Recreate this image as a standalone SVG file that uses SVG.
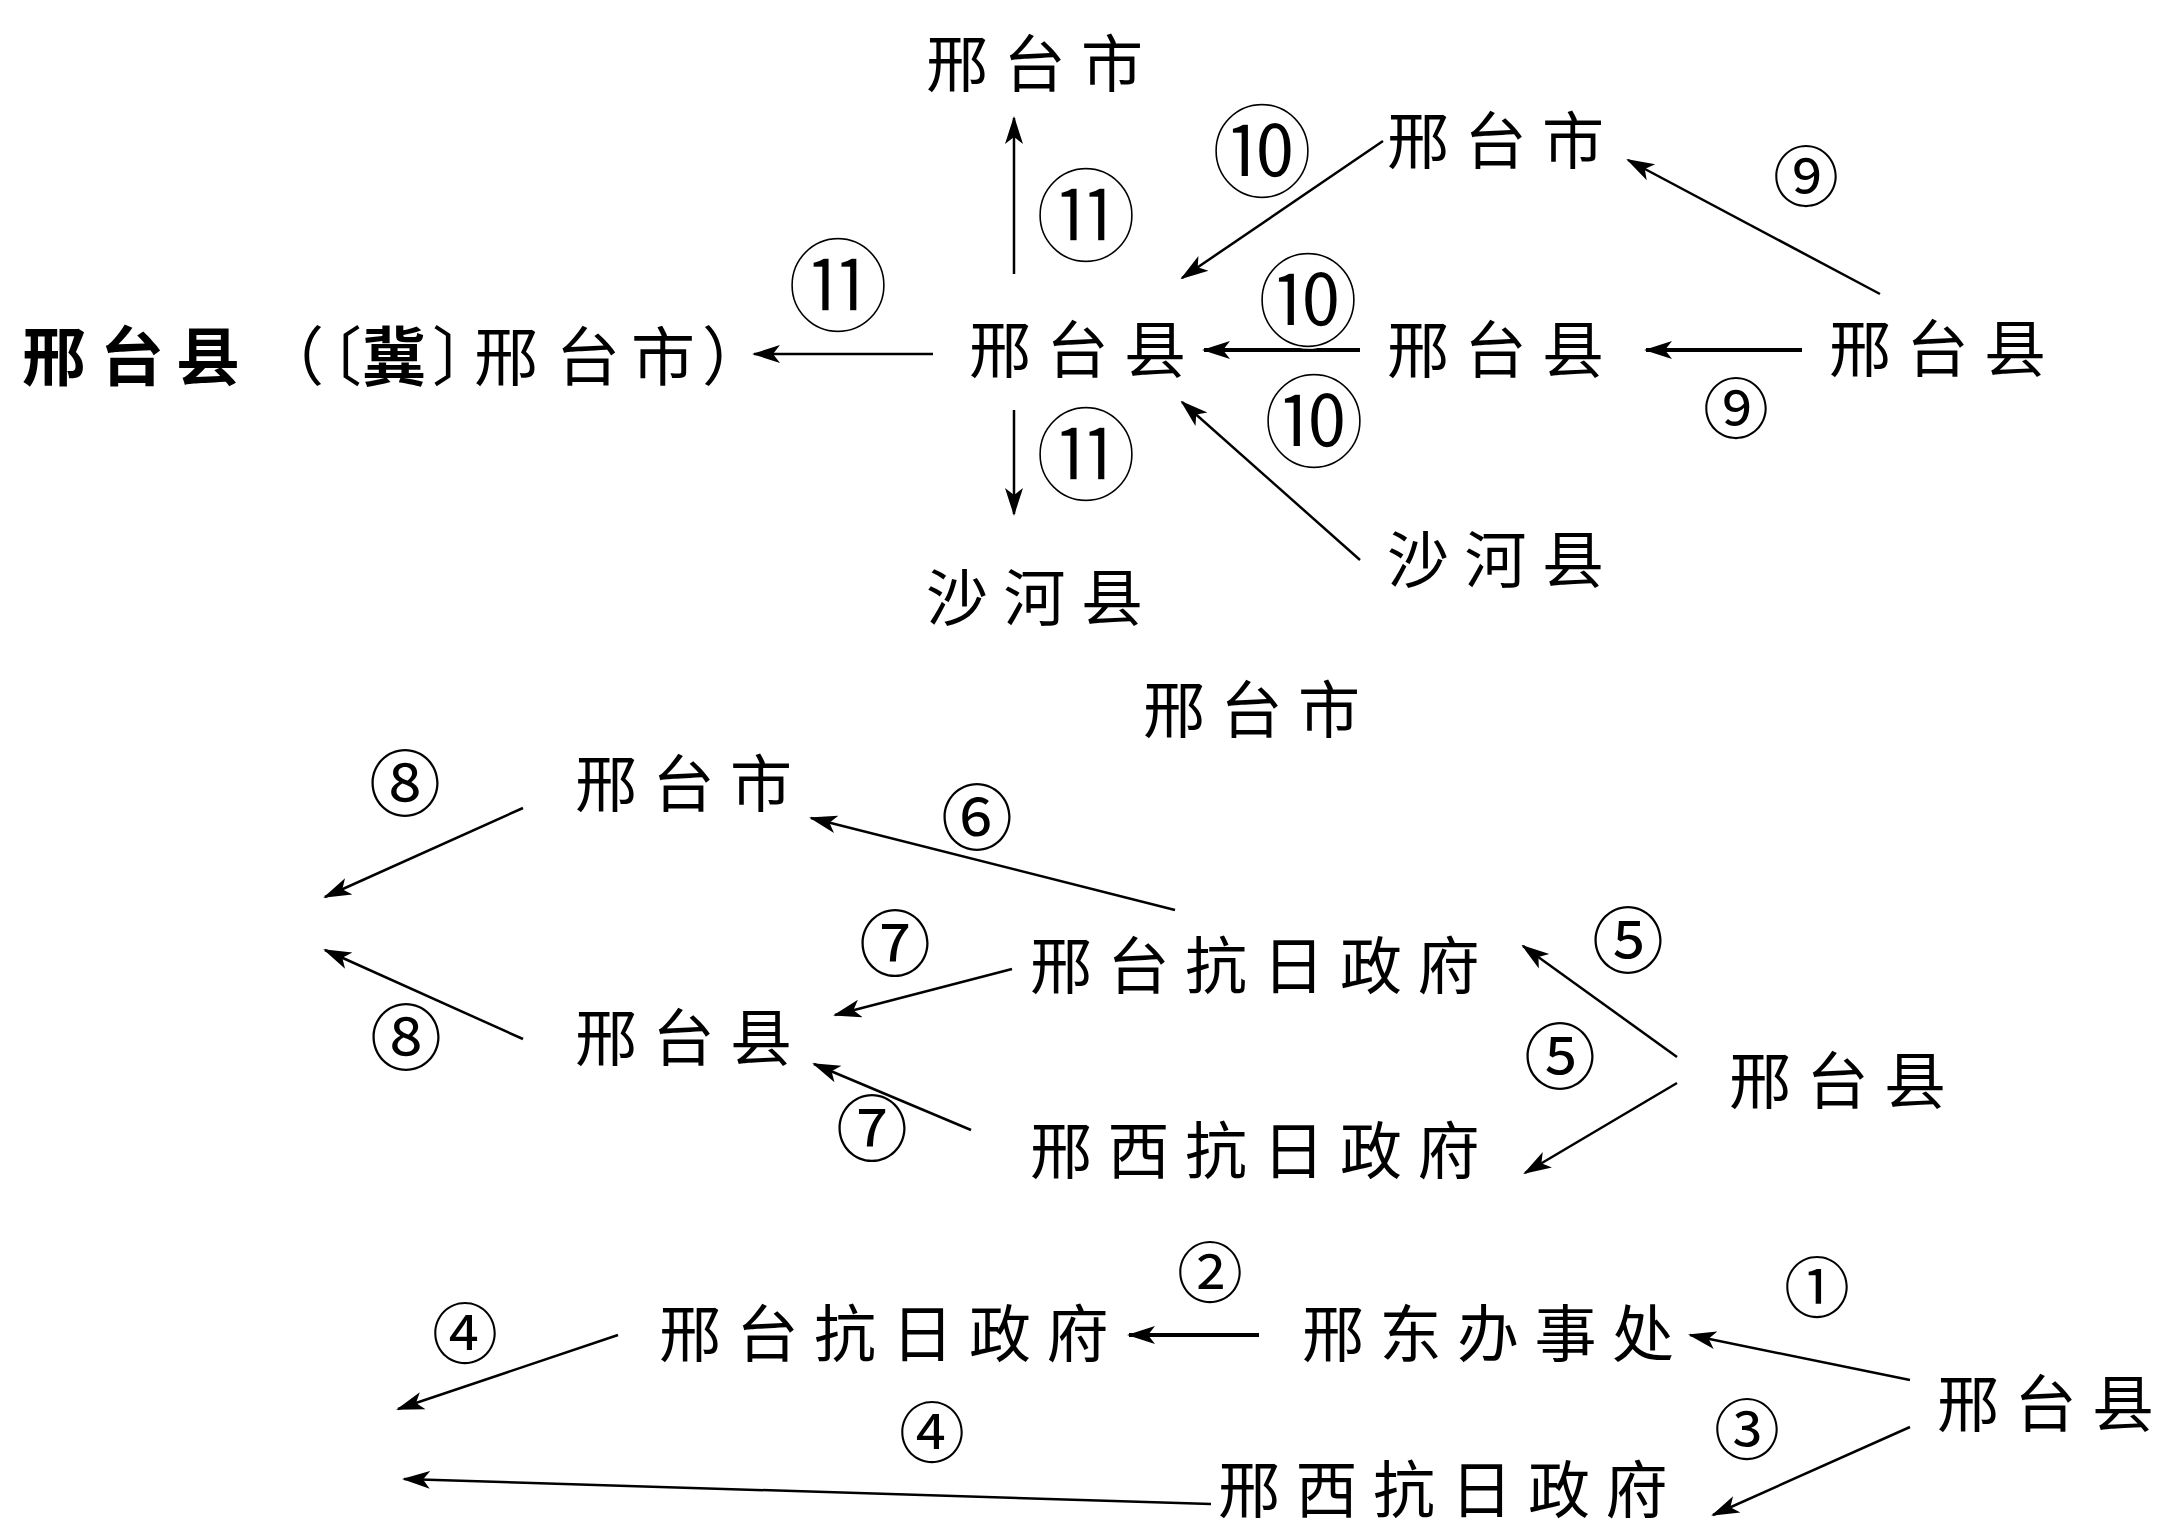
<svg xmlns="http://www.w3.org/2000/svg" width="2165" height="1527" viewBox="0 0 2165 1527">
<style>
.n{font-family:"Noto Sans CJK SC","Noto Sans CJK TC",sans-serif;font-size:62px;letter-spacing:15.5px;fill:#000}
.b{font-family:"Noto Sans CJK SC",sans-serif;font-size:64px;fill:#000}
.c{font-family:"Noto Sans CJK SC","DejaVu Sans",sans-serif;font-size:66px;fill:#000;text-anchor:middle}
.c2{font-size:72px}
.cc{font-family:"Noto Sans CJK SC","DejaVu Sans",sans-serif;font-size:102px;fill:#000;text-anchor:middle;stroke:#fff;stroke-width:1.6px}
.e{stroke:#000;stroke-width:2.5;fill:none;marker-end:url(#arr)}
.t{stroke-width:4}
</style>
<defs>
<marker id="arr" viewBox="0 0 28 20" refX="26" refY="10" markerWidth="28" markerHeight="20" markerUnits="userSpaceOnUse" orient="auto">
<path d="M28,10 L0,1 L7,10 L0,19 Z" fill="#000"/>
</marker>
</defs>
<rect width="2165" height="1527" fill="#fff"/>
<g id="connectors">
<line class="e" x1="1014" y1="274" x2="1014" y2="118"/>
<line class="e" x1="933" y1="354" x2="754" y2="354"/>
<line class="e" x1="1014" y1="410" x2="1014" y2="514"/>
<line class="e" x1="1383" y1="141" x2="1182" y2="278"/>
<line class="e t" x1="1360" y1="350" x2="1204" y2="350"/>
<line class="e" x1="1360" y1="560" x2="1182" y2="402"/>
<line class="e" x1="1880" y1="294" x2="1628" y2="160"/>
<line class="e t" x1="1802" y1="350" x2="1646" y2="350"/>
<line class="e" x1="523" y1="808" x2="325" y2="897"/>
<line class="e" x1="523" y1="1039" x2="325" y2="950"/>
<line class="e" x1="1175" y1="910" x2="811" y2="818"/>
<line class="e" x1="1012" y1="969" x2="835" y2="1015"/>
<line class="e" x1="971" y1="1130" x2="814" y2="1064"/>
<line class="e" x1="1677" y1="1057" x2="1523" y2="946"/>
<line class="e" x1="1677" y1="1083" x2="1525" y2="1173"/>
<line class="e" x1="618" y1="1335" x2="398" y2="1409"/>
<line class="e t" x1="1259" y1="1335" x2="1129" y2="1335"/>
<line class="e" x1="1910" y1="1380" x2="1690" y2="1335"/>
<line class="e" x1="1910" y1="1427" x2="1713" y2="1515"/>
<line class="e" x1="1211" y1="1504" x2="404" y2="1479"/>
</g>
<g id="labels">
<text class="cc" x="1086" y="254">⑪</text>
<text class="cc" x="838" y="324">⑪</text>
<text class="cc" x="1086" y="493">⑪</text>
<text class="cc" x="1262" y="190">⑩</text>
<text class="cc" x="1308" y="339">⑩</text>
<text class="cc" x="1314" y="460">⑩</text>
<text class="c" x="1806" y="201">⑨</text>
<text class="c" x="1736" y="433">⑨</text>
<text class="c c2" x="405" y="810">⑧</text>
<text class="c c2" x="406" y="1064">⑧</text>
<text class="c c2" x="977" y="844">⑥</text>
<text class="c c2" x="895" y="970">⑦</text>
<text class="c c2" x="872" y="1155">⑦</text>
<text class="c c2" x="1628" y="967">⑤</text>
<text class="c c2" x="1560" y="1083">⑤</text>
<text class="c" x="465" y="1358">④</text>
<text class="c" x="1210" y="1297">②</text>
<text class="c" x="1817" y="1312">①</text>
<text class="c" x="1747" y="1454">③</text>
<text class="c" x="932" y="1457">④</text>
</g>
<g id="n1"><text class="n" x="926" y="87">邢台市</text></g>
<g id="n2"><text class="n" x="969" y="373">邢台县</text></g>
<g id="n3"><text class="b" y="380"><tspan x="22" font-weight="bold">邢</tspan><tspan x="100" font-weight="bold">台</tspan><tspan x="176" font-weight="bold">县</tspan><tspan x="260">（</tspan><tspan x="298">〔</tspan><tspan x="362" font-weight="bold">冀</tspan><tspan x="432">〕</tspan><tspan x="474">邢</tspan><tspan x="556">台</tspan><tspan x="631">市</tspan><tspan x="702">）</tspan></text></g>
<g id="n4"><text class="n" x="926" y="621">沙河县</text></g>
<g id="n5"><text class="n" x="1387" y="164">邢台市</text></g>
<g id="n6"><text class="n" x="1387" y="373">邢台县</text></g>
<g id="n7"><text class="n" x="1387" y="583">沙河县</text></g>
<g id="n8"><text class="n" x="1829" y="372">邢台县</text></g>
<g id="n9"><text class="n" x="1143" y="733">邢台市</text></g>
<g id="n10"><text class="n" x="575" y="807">邢台市</text></g>
<g id="n11"><text class="n" x="575" y="1061">邢台县</text></g>
<g id="n12"><text class="n" x="1030" y="989">邢台抗日政府</text></g>
<g id="n13"><text class="n" x="1030" y="1174">邢西抗日政府</text></g>
<g id="n14"><text class="n" x="1729" y="1104">邢台县</text></g>
<g id="n15"><text class="n" x="659" y="1357">邢台抗日政府</text></g>
<g id="n16"><text class="n" x="1302" y="1357">邢东办事处</text></g>
<g id="n17"><text class="n" x="1937" y="1427" style="letter-spacing:0">邢<tspan dx="15.5">台</tspan><tspan dx="15.5">县</tspan></text></g>
<g id="n18"><text class="n" x="1218" y="1513">邢西抗日政府</text></g>
</svg>
